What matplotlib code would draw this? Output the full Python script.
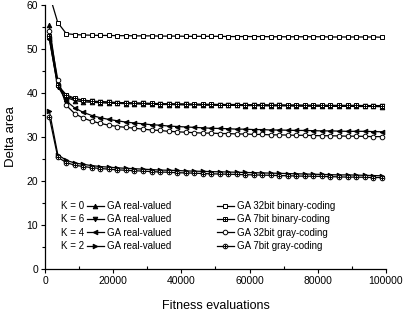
import matplotlib
matplotlib.use("Agg")
import matplotlib.pyplot as plt
from matplotlib.ticker import MultipleLocator
from matplotlib.lines import Line2D

plt.rcParams['font.family'] = ['Liberation Sans', 'DejaVu Sans']

evals = [1250, 3750, 6250, 8750, 11250, 13750, 16250, 18750, 21250, 23750,
         26250, 28750, 31250, 33750, 36250, 38750, 41250, 43750, 46250, 48750,
         51250, 53750, 56250, 58750, 61250, 63750, 66250, 68750, 71250, 73750,
         76250, 78750, 81250, 83750, 86250, 88750, 91250, 93750, 96250, 98750]

k0_real = [55.4, 42.0, 39.0, 38.3, 38.0, 37.9, 37.8, 37.7, 37.65, 37.6,
           37.55, 37.5, 37.45, 37.4, 37.4, 37.35, 37.3, 37.3, 37.25, 37.25,
           37.2, 37.2, 37.2, 37.15, 37.15, 37.1, 37.1, 37.1, 37.1, 37.05,
           37.05, 37.05, 37.0, 37.0, 37.0, 37.0, 36.95, 36.95, 36.95, 36.9]
k6_real = [52.6, 41.3, 39.3, 38.6, 38.3, 38.1, 38.0, 37.9, 37.8, 37.75,
           37.7, 37.65, 37.6, 37.55, 37.5, 37.45, 37.45, 37.4, 37.4, 37.35,
           37.35, 37.3, 37.3, 37.25, 37.25, 37.2, 37.2, 37.2, 37.15, 37.15,
           37.1, 37.1, 37.1, 37.05, 37.05, 37.05, 37.0, 37.0, 37.0, 37.0]
k4_real = [52.3, 41.6, 38.2, 36.6, 35.6, 34.9, 34.4, 34.0, 33.7, 33.4,
           33.2, 33.0, 32.8, 32.7, 32.5, 32.4, 32.3, 32.2, 32.1, 32.0,
           31.95, 31.9, 31.8, 31.8, 31.7, 31.7, 31.6, 31.6, 31.55, 31.5,
           31.5, 31.45, 31.4, 31.4, 31.35, 31.3, 31.3, 31.3, 31.25, 31.2]
k2_real = [36.0, 26.0, 24.7, 24.1, 23.8, 23.5, 23.3, 23.15, 23.0, 22.9,
           22.8, 22.7, 22.6, 22.5, 22.45, 22.4, 22.3, 22.25, 22.2, 22.15,
           22.1, 22.05, 22.0, 21.95, 21.9, 21.85, 21.8, 21.75, 21.7, 21.65,
           21.6, 21.55, 21.5, 21.45, 21.4, 21.4, 21.35, 21.3, 21.25, 21.2]
bin32 = [62.5, 56.0, 53.5, 53.3, 53.2, 53.15, 53.1, 53.1, 53.05, 53.05,
         53.0, 53.0, 53.0, 52.95, 52.95, 52.95, 52.9, 52.9, 52.9, 52.9,
         52.9, 52.85, 52.85, 52.85, 52.85, 52.85, 52.8, 52.8, 52.8, 52.8,
         52.8, 52.8, 52.8, 52.75, 52.75, 52.75, 52.75, 52.75, 52.75, 52.7]
bin7 = [53.0, 41.8, 39.6, 38.8, 38.4, 38.2, 38.05, 37.95, 37.85, 37.8,
        37.75, 37.7, 37.65, 37.6, 37.55, 37.55, 37.5, 37.5, 37.45, 37.45,
        37.4, 37.4, 37.4, 37.35, 37.35, 37.35, 37.3, 37.3, 37.3, 37.3,
        37.25, 37.25, 37.25, 37.2, 37.2, 37.2, 37.2, 37.15, 37.15, 37.15]
gray32 = [54.0, 43.0, 37.2, 35.3, 34.3, 33.6, 33.1, 32.7, 32.4, 32.2,
          32.0, 31.8, 31.6, 31.5, 31.3, 31.2, 31.1, 31.0, 30.9, 30.9,
          30.8, 30.8, 30.7, 30.7, 30.6, 30.6, 30.5, 30.5, 30.45, 30.4,
          30.4, 30.35, 30.3, 30.3, 30.25, 30.2, 30.2, 30.15, 30.1, 30.1]
gray7 = [34.6, 25.4, 24.2, 23.6, 23.3, 23.05, 22.85, 22.7, 22.55, 22.45,
         22.35, 22.25, 22.15, 22.05, 22.0, 21.9, 21.85, 21.8, 21.7, 21.65,
         21.6, 21.55, 21.5, 21.45, 21.4, 21.35, 21.3, 21.25, 21.2, 21.15,
         21.1, 21.1, 21.05, 21.0, 20.95, 20.9, 20.9, 20.85, 20.8, 20.8]

k_labels = ["K = 0", "K = 6", "K = 4", "K = 2"]
real_label = "GA real-valued"
coding_labels = ["GA 32bit binary-coding", "GA 7bit binary-coding",
                 "GA 32bit gray-coding", "GA 7bit gray-coding"]

fig = plt.figure(figsize=(4.07, 3.18), dpi=100)
ax = fig.add_axes([0.1106, 0.154, 0.8375, 0.830])

lw = 0.9
ms = 3.3
common = dict(color='black', lw=lw, ms=ms, mec='black', mew=0.7)

h_k0, = ax.plot(evals, k0_real, marker='^', mfc='black', **common)
h_k6, = ax.plot(evals, k6_real, marker='v', mfc='black', **common)
h_k4, = ax.plot(evals, k4_real, marker='<', mfc='black', **common)
h_k2, = ax.plot(evals, k2_real, marker='>', mfc='black', **common)
h_b32, = ax.plot(evals, bin32, marker='s', mfc='white', **common)
h_b7a, = ax.plot(evals, bin7, marker='s', mfc='white', **common)
h_b7b, = ax.plot(evals, bin7, marker='+', ls='none', color='black', ms=ms, mew=0.7)
h_g32, = ax.plot(evals, gray32, marker='o', mfc='white', **common)
h_g7a, = ax.plot(evals, gray7, marker='o', mfc='white', **common)
h_g7b, = ax.plot(evals, gray7, marker='+', ls='none', color='black', ms=ms, mew=0.7)

ax.set_xlim(0, 100000)
ax.set_ylim(0, 60)
ax.xaxis.set_major_locator(MultipleLocator(20000))
ax.xaxis.set_minor_locator(MultipleLocator(10000))
ax.yaxis.set_major_locator(MultipleLocator(10))
ax.yaxis.set_minor_locator(MultipleLocator(5))
for s in ['top', 'right']:
    ax.spines[s].set_visible(False)
for s in ['left', 'bottom']:
    ax.spines[s].set_linewidth(0.9)
ax.tick_params(axis='x', which='major', direction='out', length=3, width=0.8, labelsize=7.5, pad=2)
ax.tick_params(axis='x', which='minor', direction='in', length=2, width=0.8)
ax.tick_params(axis='y', which='major', direction='out', length=3, width=0.8, labelsize=7.5, pad=2)
ax.tick_params(axis='y', which='minor', direction='out', length=2, width=0.8)
ax.set_xlabel("Fitness evaluations", fontsize=9, labelpad=10)
ax.set_ylabel("Delta area", fontsize=9.5, labelpad=7)

handles = [h_k0, h_k6, h_k4, h_k2, h_b32, (h_b7a, h_b7b), h_g32, (h_g7a, h_g7b)]
labels = [real_label] * 4 + coding_labels
leg = ax.legend(handles, labels, ncol=2, loc='upper left',
                bbox_to_anchor=(0.123, 0.258), frameon=False, fontsize=7,
                handlelength=1.75, handletextpad=0.3, labelspacing=0.35,
                columnspacing=4.7, borderpad=0, borderaxespad=0)
ax.add_artist(leg)
blank = [Line2D([], [], ls='none') for _ in k_labels]
leg2 = ax.legend(blank, k_labels, loc='upper right',
                 bbox_to_anchor=(0.116, 0.258), frameon=False, fontsize=7,
                 handlelength=0, handletextpad=0, labelspacing=0.35,
                 borderpad=0, borderaxespad=0)

fig.savefig("out.png", dpi=100)
